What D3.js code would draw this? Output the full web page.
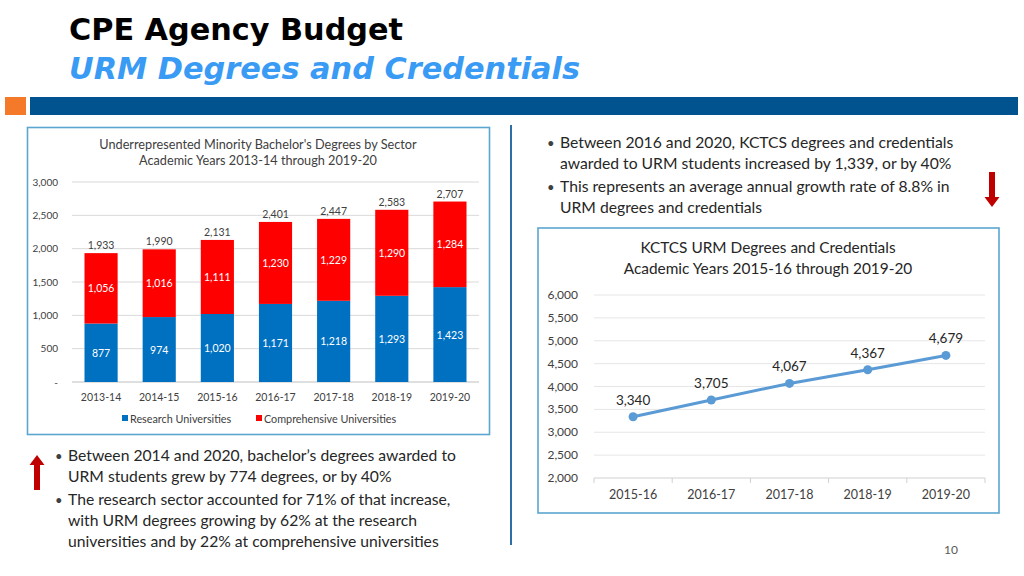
<!DOCTYPE html>
<html><head><meta charset="utf-8">
<script src="https://cdn.jsdelivr.net/npm/d3@7"></script>
<style>
body{margin:0;background:#fff;}
svg{display:block;}
text{font-family:Lato,"Open Sans",sans-serif;}
</style></head>
<body>
<svg id="c" width="1024" height="576"></svg>
<script>
// ---------- data ----------
const barYears = ["2013-14","2014-15","2015-16","2016-17","2017-18","2018-19","2019-20"];
const researchVals = [877,974,1020,1171,1218,1293,1423];
const compVals = [1056,1016,1111,1230,1229,1290,1284];
const totalVals = [1933,1990,2131,2401,2447,2583,2707];
const barTicks = [0,500,1000,1500,2000,2500,3000];
const barSeries = ["Research Universities","Comprehensive Universities"];

const lineYears = ["2015-16","2016-17","2017-18","2018-19","2019-20"];
const kctcsVals = [3340,3705,4067,4367,4679];
const lineTicks = [2000,2500,3000,3500,4000,4500,5000,5500,6000];

const svg = d3.select("#c");
const fmt = d3.format(",");

// ---------- header ----------
svg.append("text").attr("x",69).attr("y",40).text("CPE Agency Budget")
  .style("font-family","'DejaVu Sans Condensed','DejaVu Sans',sans-serif").style("font-weight","bold")
  .style("font-size","31px").attr("fill","#000")
  .attr("textLength",334).attr("lengthAdjust","spacingAndGlyphs");
svg.append("text").attr("x",69).attr("y",79).text("URM Degrees and Credentials")
  .style("font-family","'DejaVu Sans Condensed','DejaVu Sans',sans-serif").style("font-weight","bold")
  .style("font-style","italic").style("font-size","31px").attr("fill","#3A9BF5")
  .attr("textLength",511).attr("lengthAdjust","spacingAndGlyphs");
svg.append("rect").attr("x",5).attr("y",97).attr("width",21).attr("height",18).attr("fill","#F47A2A");
svg.append("rect").attr("x",30).attr("y",97).attr("width",988).attr("height",18).attr("fill","#00538F");

// separator
svg.append("line").attr("x1",511).attr("x2",511).attr("y1",125).attr("y2",545)
  .attr("stroke","#2E6FA7").attr("stroke-width",2);

// ---------- left bar chart ----------
const L = svg.append("g");
L.append("rect").attr("x",27.5).attr("y",127.5).attr("width",462).attr("height",307)
  .attr("fill","#fff").attr("stroke","#5AA6D0").attr("stroke-width",1.6);
L.append("text").attr("x",258).attr("y",149).attr("text-anchor","middle").attr("fill","#404040")
  .style("font-size","12.7px").text("Underrepresented  Minority Bachelor's Degrees by Sector");
L.append("text").attr("x",258).attr("y",165).attr("text-anchor","middle").attr("fill","#404040")
  .style("font-size","12.7px").text("Academic Years 2013-14 through 2019-20");

const bx = d3.scaleBand().domain(barYears).range([72,479]).paddingInner(0.43).paddingOuter(0.215);
const by = d3.scaleLinear().domain([0,3000]).range([382,182]);

L.append("g").selectAll("line").data(barTicks).join("line")
  .attr("x1",72).attr("x2",479).attr("y1",d=>by(d)).attr("y2",d=>by(d))
  .attr("stroke",d=>d===0?"#BFBFBF":"#D9D9D9").attr("stroke-width",1);
L.append("g").selectAll("text").data(barTicks).join("text")
  .attr("x",58).attr("y",d=>by(d)+3.5).attr("text-anchor","end").attr("fill","#404040")
  .style("font-size","10px").text(d=>d===0?"-":fmt(d));

const barData = barYears.map((y,i)=>({y,r:researchVals[i],c:compVals[i],t:totalVals[i]}));
const bg = L.append("g").selectAll("g").data(barData).join("g");
bg.append("rect").attr("x",d=>bx(d.y)).attr("width",bx.bandwidth())
  .attr("y",d=>by(d.r)).attr("height",d=>by(0)-by(d.r)).attr("fill","#0070C0");
bg.append("rect").attr("x",d=>bx(d.y)).attr("width",bx.bandwidth())
  .attr("y",d=>by(d.r+d.c)).attr("height",d=>by(d.r)-by(d.r+d.c)).attr("fill","#FF0000");
bg.append("text").attr("x",d=>bx(d.y)+bx.bandwidth()/2).attr("y",d=>(by(0)+by(d.r))/2+4)
  .attr("text-anchor","middle").attr("fill","#fff").style("font-size","10.5px").text(d=>fmt(d.r));
bg.append("text").attr("x",d=>bx(d.y)+bx.bandwidth()/2).attr("y",d=>(by(d.r)+by(d.r+d.c))/2+4)
  .attr("text-anchor","middle").attr("fill","#fff").style("font-size","10.5px").text(d=>fmt(d.c));
bg.append("text").attr("x",d=>bx(d.y)+bx.bandwidth()/2).attr("y",d=>by(d.t)-4)
  .attr("text-anchor","middle").attr("fill","#404040").style("font-size","10.5px").text(d=>fmt(d.t));
L.append("g").selectAll("text").data(barYears).join("text")
  .attr("x",d=>bx(d)+bx.bandwidth()/2).attr("y",401).attr("text-anchor","middle")
  .attr("fill","#404040").style("font-size","10.5px").text(d=>d);

// legend
const legColors = ["#0070C0","#FF0000"];
const legX = [122,256];
const lg = L.append("g").selectAll("g").data(barSeries).join("g")
  .attr("transform",(d,i)=>`translate(${legX[i]},419)`);
lg.append("rect").attr("x",0).attr("y",-4).attr("width",6).attr("height",6).attr("fill",(d,i)=>legColors[i]);
lg.append("text").attr("x",8).attr("y",3.5).attr("fill","#404040").style("font-size","10.8px").text(d=>d);

// ---------- bullet text helper ----------
const tcol = "#262626";
function bulletBlock(x, lines, ys){
  lines.forEach((ln,i)=>{
    if(ln.b) svg.append("text").attr("x",x-13).attr("y",ys[i]).attr("fill","#404040").style("font-size","13px").text("•");
    svg.append("text").attr("x",x).attr("y",ys[i]).attr("fill",tcol).style("font-size","15.7px").text(ln.t);
  });
}

// right text
bulletBlock(560,[
  {b:true,t:"Between 2016 and 2020, KCTCS degrees and credentials"},
  {b:false,t:"awarded to URM students increased by 1,339, or by 40%"},
  {b:true,t:"This represents an average annual growth rate of 8.8% in"},
  {b:false,t:"URM degrees and credentials"}],[147.5,169,191.5,213]);

// down arrow
svg.append("path").attr("d","M989,172 L995,172 L995,197 L999.5,197 L992,207 L984.5,197 L989,197 Z").attr("fill","#C00000");

// ---------- right line chart ----------
const R = svg.append("g");
R.append("rect").attr("x",538).attr("y",228).attr("width",461).attr("height",285)
  .attr("fill","#fff").attr("stroke","#5AA6D0").attr("stroke-width",1.6);
R.append("text").attr("x",768).attr("y",253).attr("text-anchor","middle").attr("fill","#262626")
  .style("font-size","15.4px").text("KCTCS URM Degrees and Credentials");
R.append("text").attr("x",768).attr("y",274).attr("text-anchor","middle").attr("fill","#262626")
  .style("font-size","15.4px").text("Academic Years 2015-16 through 2019-20");

const lx = d3.scaleBand().domain(lineYears).range([594,985]);
const ly = d3.scaleLinear().domain([2000,6000]).range([478,295]);
R.append("g").selectAll("line").data(lineTicks).join("line")
  .attr("x1",594).attr("x2",985).attr("y1",d=>ly(d)).attr("y2",d=>ly(d))
  .attr("stroke",d=>d===2000?"#D0D0D0":"#E6E6E6").attr("stroke-width",1);
R.append("g").selectAll("line").data(lineYears.concat(["end"])).join("line")
  .attr("x1",(d,i)=>594+i*lx.step()).attr("x2",(d,i)=>594+i*lx.step())
  .attr("y1",478).attr("y2",483).attr("stroke","#D0D0D0");
R.append("g").selectAll("text").data(lineTicks).join("text")
  .attr("x",578).attr("y",d=>ly(d)+4).attr("text-anchor","end").attr("fill","#404040")
  .style("font-size","12px").text(d=>fmt(d));
R.append("g").selectAll("text").data(lineYears).join("text")
  .attr("x",d=>lx(d)+lx.bandwidth()/2).attr("y",499).attr("text-anchor","middle")
  .attr("fill","#404040").style("font-size","12.5px").text(d=>d);

const pts = lineYears.map((y,i)=>({y,v:kctcsVals[i]}));
R.append("path").datum(pts).attr("fill","none").attr("stroke","#5B9BD5").attr("stroke-width",3)
  .attr("d",d3.line().x(d=>lx(d.y)+lx.bandwidth()/2).y(d=>ly(d.v)));
R.append("g").selectAll("circle").data(pts).join("circle")
  .attr("cx",d=>lx(d.y)+lx.bandwidth()/2).attr("cy",d=>ly(d.v)).attr("r",4.5).attr("fill","#5B9BD5");
R.append("g").selectAll("text").data(pts).join("text")
  .attr("x",d=>lx(d.y)+lx.bandwidth()/2).attr("y",d=>ly(d.v)-12).attr("text-anchor","middle")
  .attr("fill","#262626").style("font-size","13.5px").text(d=>fmt(d.v));

// ---------- left bottom text ----------
svg.append("path").attr("d","M34,490 L40,490 L40,465 L44.5,465 L37,455 L29.5,465 L34,465 Z").attr("fill","#C00000");
bulletBlock(68,[
  {b:true,t:"Between 2014 and 2020, bachelor\u2019s degrees awarded to"},
  {b:false,t:"URM students grew by 774 degrees, or by 40%"},
  {b:true,t:"The research sector accounted for 71% of that increase,"},
  {b:false,t:"with URM degrees growing by 62% at the research"},
  {b:false,t:"universities and by 22% at comprehensive universities"}],
  [461,482,505,526,547]);

// page number
svg.append("text").attr("x",951).attr("y",554).attr("text-anchor","middle").attr("fill","#595959")
  .style("font-size","12px").text("10");
</script>
</body></html>
